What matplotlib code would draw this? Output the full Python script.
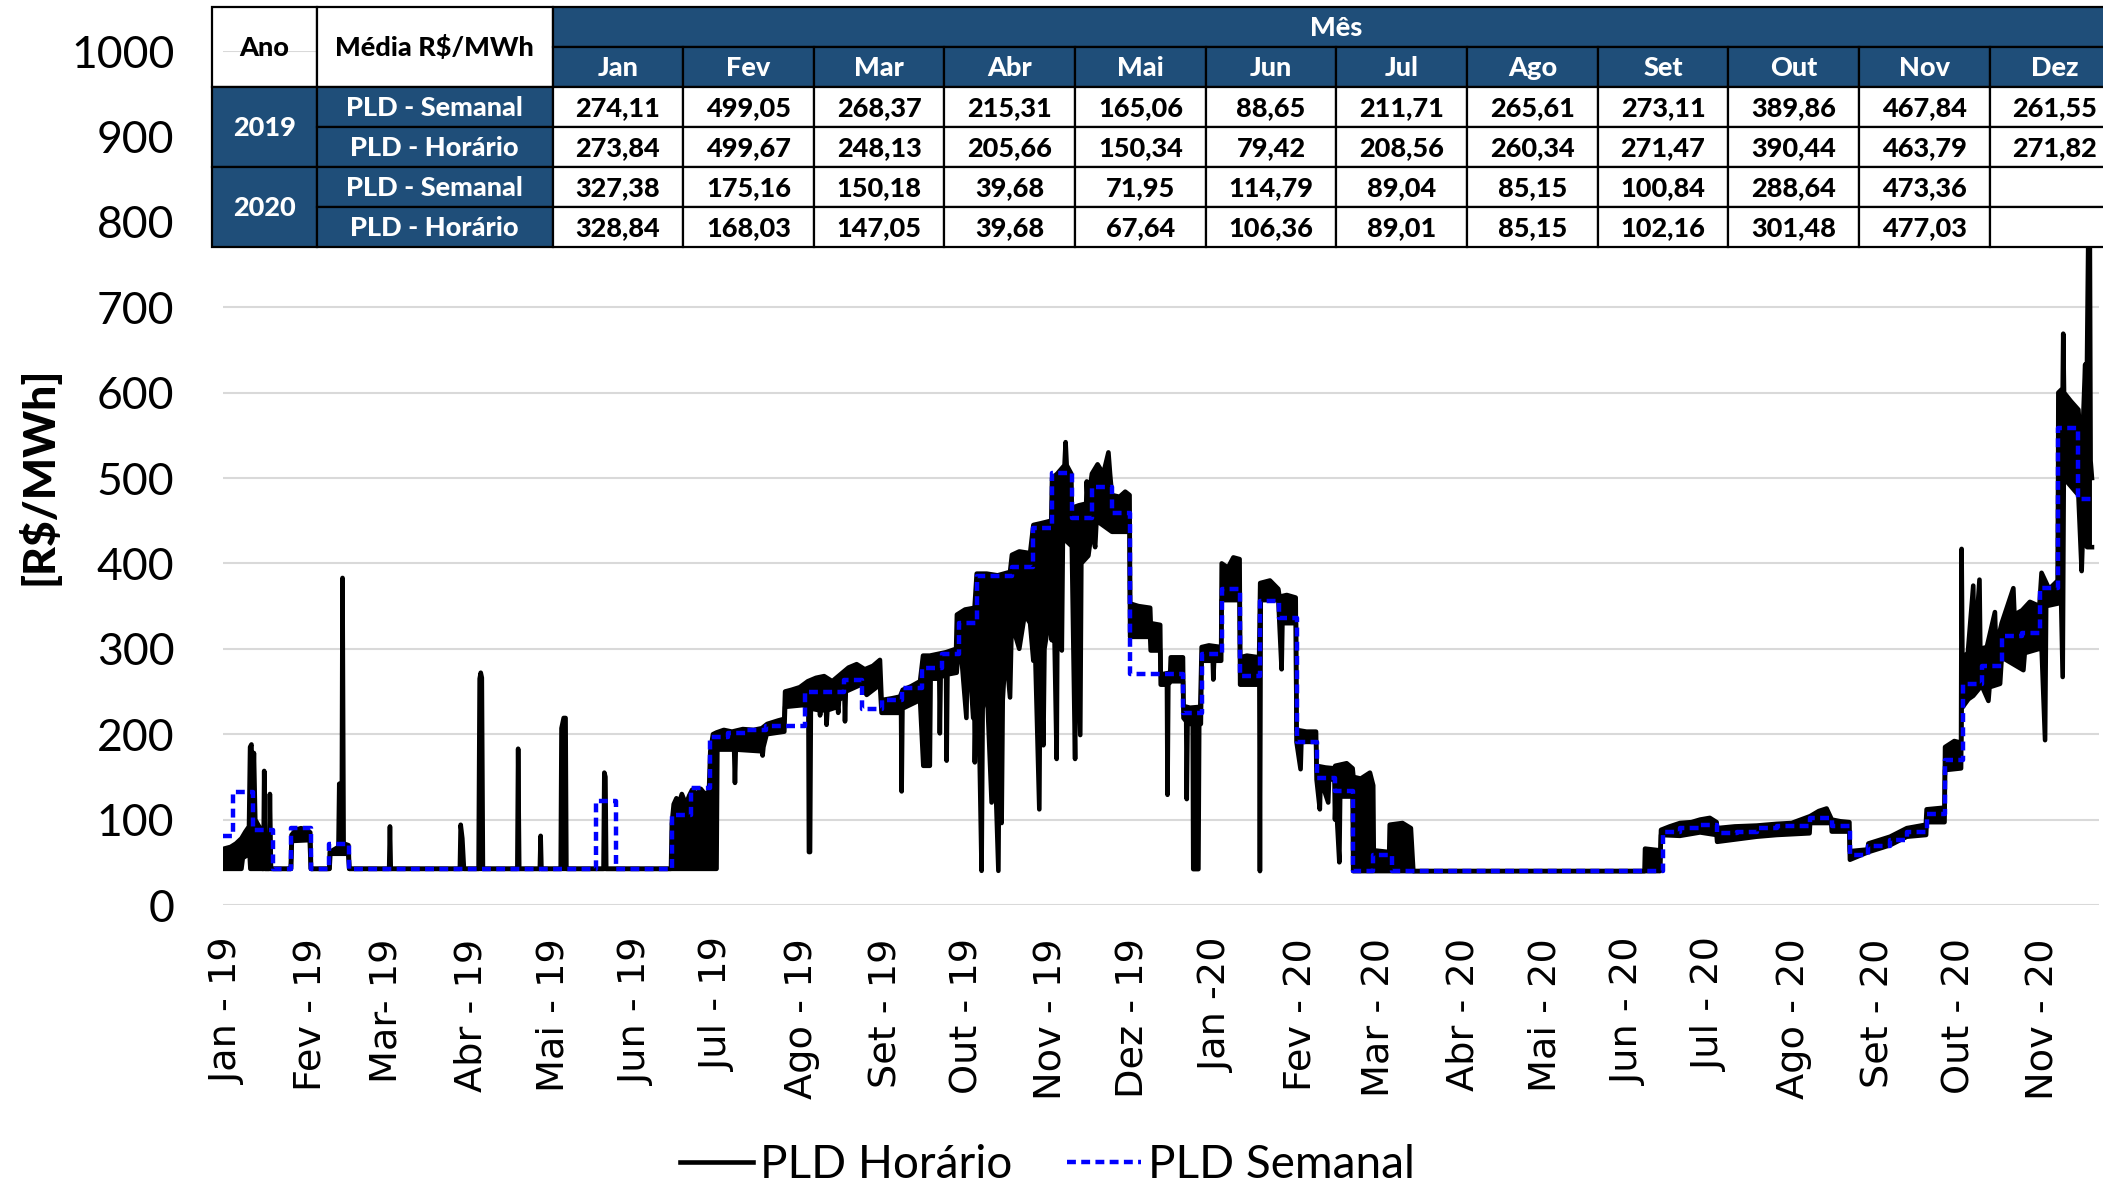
import numpy as np
import matplotlib.pyplot as plt
from matplotlib.patches import Rectangle

# eixo x: dias contados a partir de 01/01/2019
rotulos = ['Jan - 19', 'Fev - 19', 'Mar- 19', 'Abr - 19', 'Mai - 19', 'Jun - 19',
           'Jul - 19', 'Ago - 19', 'Set - 19', 'Out - 19', 'Nov - 19', 'Dez - 19',
           'Jan -20', 'Fev - 20', 'Mar - 20', 'Abr - 20', 'Mai - 20', 'Jun - 20',
           'Jul - 20', 'Ago - 20', 'Set - 20', 'Out - 20', 'Nov - 20']

# PLD horario: envoltoria superior e inferior da faixa horaria (dia, R$/MWh)
sup_2019 = [(-1.8, 45), (-1.4, 66), (1, 68), (3, 72), (5, 78), (6.5, 86), (7.8, 92),
            (8.2, 185), (8.7, 188), (9.1, 110), (9.6, 178), (10.1, 100), (11.5, 92),
            (12.3, 88), (12.7, 42.35), (13.1, 42.35), (13.4, 157), (13.8, 42.35),
            (15.2, 42.35), (15.5, 130), (15.9, 42.35), (23.2, 42.35), (23.5, 82), (25, 88),
            (27, 90), (29, 88), (30.4, 85), (30.7, 42.35), (37.4, 42.35), (37.6, 62),
            (40.8, 68), (41.1, 142), (41.4, 70), (42.0, 72), (42.3, 383), (42.7, 72),
            (44.5, 70), (44.8, 42.35), (59.5, 42.35), (59.8, 92), (60.1, 42.35),
            (85.6, 42.35), (85.9, 94), (86.5, 78), (87.1, 42.35), (92.5, 42.35), (92.9, 265),
            (93.3, 272), (93.7, 266), (94.1, 42.35), (106.8, 42.35), (107.1, 183),
            (107.5, 42.35), (115.1, 42.35), (115.4, 81), (115.7, 42.35), (122.8, 42.35),
            (123.1, 207), (123.9, 219), (124.6, 219), (124.9, 42.35), (138.6, 42.35),
            (138.9, 155), (139.3, 150), (139.6, 42.35), (163.5, 42.35), (163.8, 95),
            (164.5, 118), (165.5, 125), (166.5, 120), (167.5, 130), (169, 118), (170.2, 128),
            (171.3, 135), (173, 130), (174.5, 136), (176, 130), (177.5, 133), (178, 180),
            (179, 200), (180.3, 202), (183, 205), (186, 203), (190, 206), (194, 205),
            (197, 207), (199, 212), (203, 216), (205.3, 218), (205.6, 250), (208, 252),
            (211, 255), (214, 262), (217, 266), (220, 268), (223, 262), (226, 270),
            (229, 278), (232, 282), (235, 276), (238, 280), (240.6, 287), (241.2, 240),
            (245, 242), (248, 244), (249, 252), (252, 256), (255.4, 262), (256.5, 292),
            (259, 292), (262, 294), (265, 296), (268.7, 300), (269, 340), (272, 346),
            (275.5, 348), (276.3, 388), (280, 388), (284, 386), (288.6, 390), (289.3, 410),
            (292, 414), (296, 412), (297.2, 445), (300, 447), (303.8, 450), (304.1, 500),
            (306, 505), (308.7, 515), (309.1, 542), (309.5, 515), (311.2, 505), (311.4, 465),
            (314, 468), (316.7, 470), (316.9, 496), (317.3, 470), (318.8, 505), (320.9, 516),
            (323, 505), (324.9, 530), (325.5, 505), (326.2, 480), (329, 478), (331.1, 484),
            (332.7, 480), (332.9, 353), (336, 350), (340.3, 348), (340.5, 330), (344, 328),
            (344.2, 270), (347.7, 272), (347.9, 290), (352.4, 290), (352.6, 233)]

sup_2020 = [(355, 231), (358.8, 232), (359.3, 302), (362, 304), (366.5, 302), (366.7, 400),
            (369, 395), (371, 407), (373.3, 405), (373.5, 290), (376, 292), (380.5, 290),
            (380.9, 377), (384.5, 380), (387.6, 370), (388, 361), (390.7, 363), (394, 360),
            (394.3, 205), (398, 203), (401.5, 203), (401.7, 163), (405, 161), (408.3, 160),
            (408.6, 163), (412.8, 166), (415, 160), (415.3, 150), (418, 148), (421.4, 155),
            (422.6, 140), (422.8, 64), (428.5, 62), (428.7, 94), (433.4, 96), (436.5, 90),
            (437.4, 39.68), (522.7, 39.68), (522.9, 66), (528.2, 64), (528.4, 40),
            (528.8, 88), (532, 92), (535.8, 96), (540, 97), (543.2, 100), (546.8, 102),
            (549.3, 97), (549.5, 90), (556, 92), (564.1, 93), (571.5, 95), (577, 96),
            (583.8, 104), (587, 110), (589.9, 113), (591.8, 100), (595, 98), (598.3, 97),
            (598.5, 63), (605, 65), (605.3, 72), (613.3, 80), (619.5, 90), (626.5, 94),
            (626.8, 112), (633.4, 114), (633.6, 185), (637, 192), (639.5, 190), (639.7, 417),
            (640.0, 290), (642.0, 295), (644.0, 374), (644.4, 290), (646.3, 381), (646.6, 300),
            (649, 302), (652.0, 343), (652.4, 302), (654.5, 330), (658.8, 371), (659.2, 340),
            (662, 345), (664.9, 355), (668.4, 350), (669.2, 389), (672, 370), (675.2, 380),
            (675.4, 600), (677.0, 605), (677.2, 669), (677.5, 600), (680, 590), (682.8, 580),
            (684, 520), (685.3, 633), (685.6, 520), (686.5, 800), (687.0, 800), (687.3, 520),
            (687.8, 500)]

inf_2019 = [(-1.8, 42.35), (5, 42.35), (5.5, 55), (8, 60), (8.3, 42.35), (23.3, 42.35),
            (23.6, 75), (30.2, 76), (30.6, 42.35), (37.5, 42.35), (37.8, 60), (44.4, 60),
            (44.8, 42.35), (180.3, 42.35), (180.6, 182), (186.8, 182), (187.1, 143),
            (187.4, 182), (197.0, 180), (197.3, 175), (197.6, 185), (198.8, 200), (205.3, 203),
            (205.6, 232), (212, 234), (214.2, 232), (214.4, 62), (214.8, 62), (215.1, 230),
            (218.3, 228), (218.5, 222), (218.8, 228), (220.7, 228), (220.9, 211), (221.2, 228),
            (225.0, 232), (225.2, 225), (225.5, 240), (227.5, 245), (227.7, 215), (228.0, 250),
            (233.6, 258), (235.7, 246), (240.6, 258), (241.2, 225), (248.4, 225), (248.6, 133),
            (248.9, 230), (255.4, 240), (256.6, 163), (259.0, 163), (259.3, 265), (262.5, 265),
            (262.7, 201), (263.0, 268), (265.0, 268), (265.2, 169), (265.5, 270), (268.9, 272),
            (270.0, 316), (272.5, 219), (273.0, 316), (275.0, 219), (275.3, 316), (275.6, 167),
            (276.3, 300), (277, 240), (278.1, 40), (278.5, 230), (280, 260), (281.8, 120),
            (282.2, 250), (284.3, 40), (284.7, 230), (285.5, 96), (285.9, 240), (287, 300),
            (288.6, 243), (289.2, 330), (292, 300), (294, 340), (296, 330), (297.2, 286),
            (297.6, 330), (299.4, 112), (299.8, 320), (300.9, 187), (301.3, 300), (303.8, 350),
            (304.0, 310), (304.4, 420), (305.8, 171), (306.2, 400), (307.7, 298), (308.1, 430),
            (311.4, 420), (312.6, 171), (313.0, 380), (314.5, 199), (314.9, 400), (317.5, 409),
            (318.8, 440), (320.0, 419), (320.5, 450), (326.2, 437), (332.7, 437), (332.9, 314),
            (340.3, 314), (340.5, 298), (344.0, 298), (344.2, 258), (346.5, 258), (346.7, 129),
            (347.0, 258), (347.9, 262), (352.4, 262), (352.6, 219)]

inf_2020 = [(353.6, 215), (353.8, 124), (354.1, 212), (356.0, 212), (356.2, 42), (358.1, 42),
            (358.4, 212), (359.0, 212), (359.3, 286), (363.4, 286), (363.6, 264), (363.9, 286),
            (366.5, 286), (366.7, 357), (373.3, 357), (373.5, 258), (380.6, 258), (380.8, 39.68),
            (381.1, 357), (387.6, 357), (388.0, 330), (388.8, 276), (389.1, 330), (394.1, 330),
            (394.3, 191), (395.8, 159), (396.1, 191), (401.5, 191), (401.7, 147), (402.9, 112),
            (403.2, 147), (406.0, 120), (406.3, 147), (408.3, 147), (408.5, 100), (408.8, 127),
            (410.1, 50), (410.4, 127), (415.0, 127), (415.2, 39.68), (528.4, 39.68),
            (528.8, 82), (535.8, 81), (543.2, 85), (549.3, 82), (549.5, 74), (564.1, 80),
            (571.5, 82), (583.6, 84), (583.8, 96), (591.6, 96), (591.8, 86), (598.3, 86),
            (598.5, 53), (605.3, 62), (613.3, 70), (619.5, 80), (626.6, 82), (626.8, 97),
            (633.4, 97), (633.6, 158), (639.5, 160), (639.7, 230), (642.2, 241), (644.0, 245),
            (647.1, 257), (649.6, 239), (650.0, 255), (653.9, 259), (654.5, 290), (662.5, 275),
            (663.0, 295), (668.4, 300), (668.6, 353), (670.5, 193), (670.9, 350), (675.2, 353),
            (675.4, 516), (677.0, 267), (677.4, 500), (682.8, 480), (684.0, 391), (684.4, 430),
            (686.0, 419), (687.8, 419)]

# PLD semanal: inicio de cada semana (dia) e valor
sem_dia = [-1.8, 2.0, 9.1, 16.5, 23.2, 30.6, 37.4, 44.8, 135.8, 143.2, 164.0, 171.0,
           177.9, 184.5, 191.5, 198.7, 213.0, 227.3, 233.8, 241.2, 248.6, 256.0, 263.4,
           269.6, 276.3, 289.2, 297.2, 304.0, 311.4, 318.8, 326.2, 332.8, 352.6, 359.3,
           366.7, 373.5, 380.8, 388.0, 394.3, 401.7, 408.5, 415.2, 422.6, 429.4, 529.4,
           535.8, 543.2, 549.3, 556.7, 564.1, 571.5, 583.8, 591.8, 598.5, 605.3, 613.3,
           619.5, 626.8, 633.6, 640.3, 647.1, 654.5, 661.9, 668.6, 675.4, 682.8, 687.8]
sem_pld = [81, 132, 88, 42.35, 90, 42.35, 72, 42.35, 122, 42.35, 105, 137,
           197, 201, 205, 210, 250, 264, 229, 240, 254, 278, 294,
           330, 385, 396, 441, 506, 453, 490, 459, 270, 225, 294,
           370, 268, 356, 336, 191, 149, 133, 39.68, 58, 39.68, 86,
           90, 94, 84, 86, 90, 92, 102, 92, 58, 69, 76,
           86, 107, 170, 259, 280, 315, 318, 371, 559, 475, 475]

# tabela de medias mensais
meses = ['Jan', 'Fev', 'Mar', 'Abr', 'Mai', 'Jun', 'Jul', 'Ago', 'Set', 'Out', 'Nov', 'Dez']
semanal_2019 = [274.11, 499.05, 268.37, 215.31, 165.06, 88.65, 211.71, 265.61, 273.11, 389.86, 467.84, 261.55]
horario_2019 = [273.84, 499.67, 248.13, 205.66, 150.34, 79.42, 208.56, 260.34, 271.47, 390.44, 463.79, 271.82]
semanal_2020 = [327.38, 175.16, 150.18, 39.68, 71.95, 114.79, 89.04, 85.15, 100.84, 288.64, 473.36, None]
horario_2020 = [328.84, 168.03, 147.05, 39.68, 67.64, 106.36, 89.01, 85.15, 102.16, 301.48, 477.03, None]

plt.rcParams['font.family'] = ['Lato', 'DejaVu Sans']

sup = sup_2019 + sup_2020
inf = inf_2019 + inf_2020
sup_d, sup_v = [p[0] for p in sup], [p[1] for p in sup]
inf_d, inf_v = [p[0] for p in inf], [p[1] for p in inf]

fig = plt.figure(figsize=(21.03, 11.84), dpi=100)
ax = fig.add_axes([0.10604, 0.23564, 0.89206, 0.72128])

ax.fill(sup_d + inf_d[::-1], sup_v + inf_v[::-1], color='black', lw=0, zorder=2)
ax.plot(sup_d, sup_v, color='black', lw=3.3, zorder=2, label='PLD Horário')
ax.plot(inf_d, inf_v, color='black', lw=3.3, zorder=2)
ax.plot(sem_dia, sem_pld, color='#0000FF', lw=3.2, ls=(0, (2.0, 1.2)),
        drawstyle='steps-post', zorder=3, label='PLD Semanal')

inicio_mes = (np.arange('2019-01', '2020-12', dtype='datetime64[M]').astype('datetime64[D]')
              - np.datetime64('2019-01-01')).astype(int)
ax.set_xticks(inicio_mes)
ax.set_xticklabels(rotulos, rotation=90, fontsize=27.5, family='DejaVu Sans')
ax.set_xlim(-1.8, 690.4)
ax.set_ylim(0, 1000)
ax.set_yticks(range(0, 1001, 100))
for lbl in ax.get_yticklabels():
    lbl.set_fontsize(32)
ax.tick_params(length=0)
ax.tick_params(axis='y', pad=35)
ax.tick_params(axis='x', pad=24)
for s in ax.spines.values():
    s.set_visible(False)
ax.grid(axis='y', color='#D9D9D9', lw=1.5)
ax.set_axisbelow(True)

fig.text(38 / 2103, 1 - 476 / 1184, '[R$/MWh]', rotation=90, ha='center', va='center',
         fontsize=32, fontweight='black')

fig.legend(loc='center', bbox_to_anchor=(0.498, 0.016), ncol=2, frameon=False,
           prop={'family': 'Lato', 'size': 33}, handlelength=1.6, handletextpad=0.15,
           columnspacing=1.2)

# tabela desenhada em pixels da figura
tab = fig.add_axes([0, 0, 1, 1], zorder=5)
tab.set_xlim(0, 2103)
tab.set_ylim(1184, 0)
tab.axis('off')
azul = '#1F4E79'
col_x = [212, 316.5] + [552.5 + 130.65 * k for k in range(13)]
lin_y = [6.7, 46.7, 87, 127, 167, 207, 247]


def celula(x0, x1, y0, y1, texto, fundo, cor):
    tab.add_patch(Rectangle((x0, y0), x1 - x0, y1 - y0, facecolor=fundo,
                            edgecolor='black', lw=1.6))
    tab.text((x0 + x1) / 2, (y0 + y1) / 2 + 1, texto, ha='center', va='center', color=cor,
             fontsize=19.5, fontweight='black')


def fmt(v):
    return '' if v is None else '{:.2f}'.format(v).replace('.', ',')


celula(col_x[0], col_x[1], lin_y[0], lin_y[2], 'Ano', 'none', 'black')
celula(col_x[1], col_x[2], lin_y[0], lin_y[2], 'Média R$/MWh', 'white', 'black')
celula(col_x[2], col_x[-1], lin_y[0], lin_y[1], 'Mês', azul, 'white')
for i, m in enumerate(meses):
    celula(col_x[2 + i], col_x[3 + i], lin_y[1], lin_y[2], m, azul, 'white')

linhas = [('2019', 'PLD - Semanal', semanal_2019), ('2019', 'PLD - Horário', horario_2019),
          ('2020', 'PLD - Semanal', semanal_2020), ('2020', 'PLD - Horário', horario_2020)]
for r, (ano, nome, vals) in enumerate(linhas):
    y0, y1 = lin_y[2 + r], lin_y[3 + r]
    if r % 2 == 0:
        celula(col_x[0], col_x[1], y0, lin_y[4 + r], ano, azul, 'white')
    celula(col_x[1], col_x[2], y0, y1, nome, azul, 'white')
    for i, v in enumerate(vals):
        celula(col_x[2 + i], col_x[3 + i], y0, y1, fmt(v), 'white', 'black')

fig.savefig('out.png', dpi=100)
